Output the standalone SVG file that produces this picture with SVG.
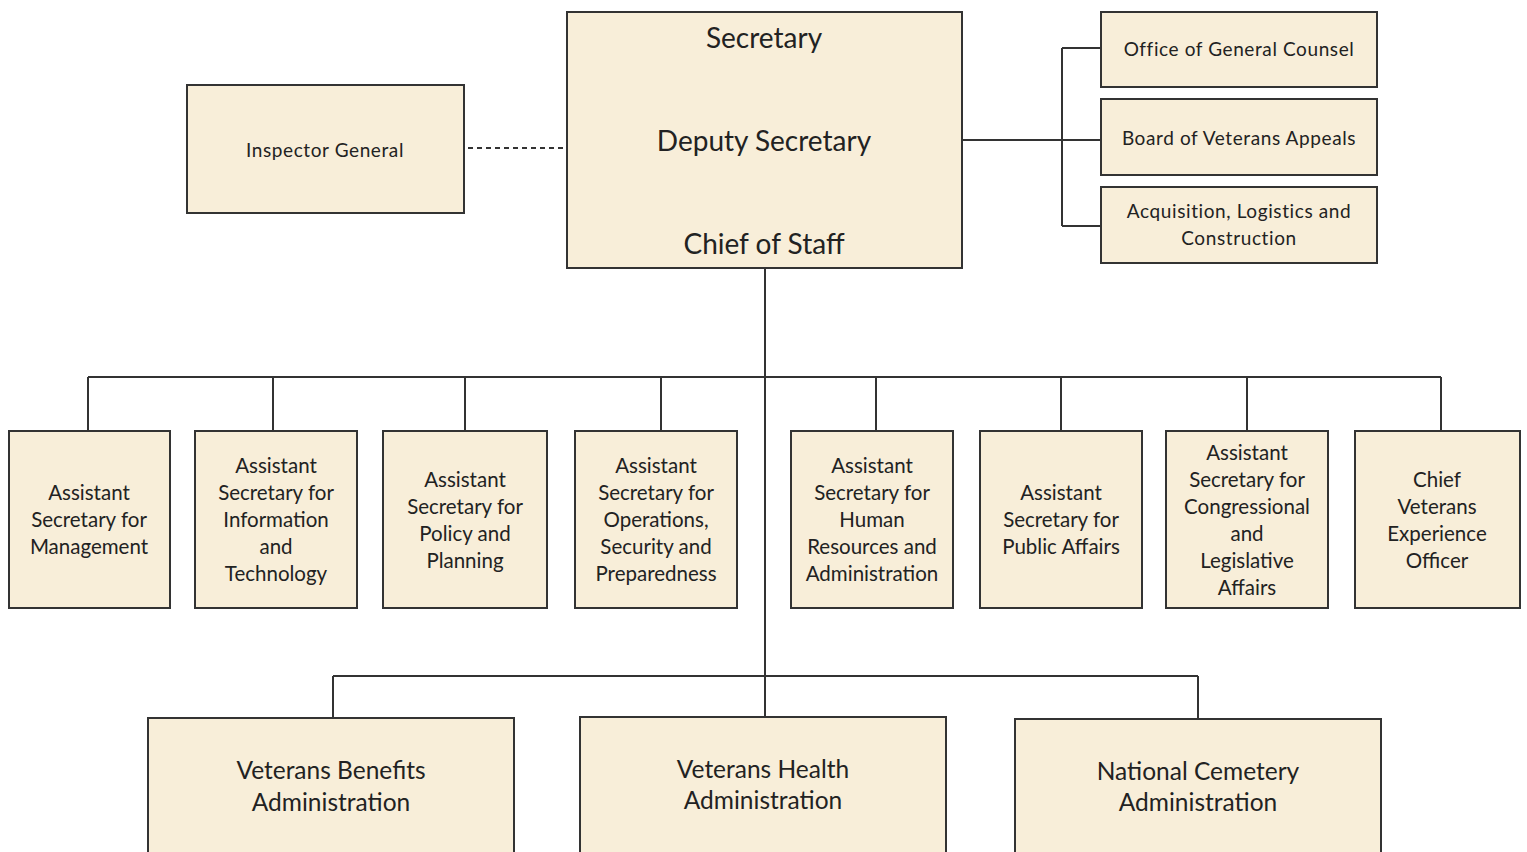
<svg xmlns="http://www.w3.org/2000/svg" width="1527" height="852" viewBox="0 0 1527 852">
<style>
.box{fill:#f8eed9;stroke:#333;stroke-width:2}
.ln{stroke:#333;stroke-width:2;fill:none}
text{font-family:Lato,"Open Sans","Liberation Sans",sans-serif;fill:#222;text-anchor:middle;dominant-baseline:central}
.big{font-size:28px}
.mid{font-size:24.5px}
.sm{font-size:20.5px}
.xs{font-size:19px;letter-spacing:0.6px}
</style>
<rect width="1527" height="852" fill="#fff"/>
<g id="connectors">
<line class="ln" x1="468" y1="148" x2="567" y2="148" stroke-dasharray="5,4"/>
<line class="ln" x1="962" y1="140" x2="1062" y2="140"/>
<line class="ln" x1="1062" y1="48" x2="1062" y2="226"/>
<line class="ln" x1="1062" y1="48" x2="1101" y2="48"/>
<line class="ln" x1="1062" y1="140" x2="1101" y2="140"/>
<line class="ln" x1="1062" y1="226" x2="1101" y2="226"/>
<line class="ln" x1="765" y1="268" x2="765" y2="718"/>
<line class="ln" x1="88" y1="377" x2="1441" y2="377"/>
<line class="ln" x1="88" y1="377" x2="88" y2="431"/>
<line class="ln" x1="273" y1="377" x2="273" y2="431"/>
<line class="ln" x1="465" y1="377" x2="465" y2="431"/>
<line class="ln" x1="661" y1="377" x2="661" y2="431"/>
<line class="ln" x1="876" y1="377" x2="876" y2="431"/>
<line class="ln" x1="1061" y1="377" x2="1061" y2="431"/>
<line class="ln" x1="1247" y1="377" x2="1247" y2="431"/>
<line class="ln" x1="1441" y1="377" x2="1441" y2="431"/>
<line class="ln" x1="333" y1="676" x2="1198" y2="676"/>
<line class="ln" x1="333" y1="676" x2="333" y2="718"/>
<line class="ln" x1="1198" y1="676" x2="1198" y2="718"/>
</g>
<g id="secretary">
<rect class="box" x="567" y="12" width="395" height="256"/>
<text class="big" x="764" y="37">Secretary</text>
<text class="big" x="764" y="140">Deputy Secretary</text>
<text class="big" x="764" y="243">Chief of Staff</text>
</g>
<g id="inspector-general">
<rect class="box" x="187" y="85" width="277" height="128"/>
<text class="xs" x="325" y="149">Inspector General</text>
</g>
<g id="general-counsel">
<rect class="box" x="1101" y="12" width="276" height="75"/>
<text class="xs" x="1239" y="48">Office of General Counsel</text>
</g>
<g id="veterans-appeals">
<rect class="box" x="1101" y="99" width="276" height="76"/>
<text class="xs" x="1239" y="137">Board of Veterans Appeals</text>
</g>
<g id="acquisition">
<rect class="box" x="1101" y="187" width="276" height="76"/>
<text class="xs" x="1239" y="210">Acquisition, Logistics and</text>
<text class="xs" x="1239" y="237">Construction</text>
</g>
<g id="as-management">
<rect class="box" x="9" y="431" width="161" height="177"/>
<text class="sm" x="89" y="492">Assistant</text>
<text class="sm" x="89" y="519">Secretary for</text>
<text class="sm" x="89" y="546">Management</text>
</g>
<g id="as-it">
<rect class="box" x="195" y="431" width="162" height="177"/>
<text class="sm" x="276" y="465">Assistant</text>
<text class="sm" x="276" y="492">Secretary for</text>
<text class="sm" x="276" y="519">Information</text>
<text class="sm" x="276" y="546">and</text>
<text class="sm" x="276" y="573">Technology</text>
</g>
<g id="as-policy">
<rect class="box" x="383" y="431" width="164" height="177"/>
<text class="sm" x="465" y="479">Assistant</text>
<text class="sm" x="465" y="506">Secretary for</text>
<text class="sm" x="465" y="533">Policy and</text>
<text class="sm" x="465" y="560">Planning</text>
</g>
<g id="as-operations">
<rect class="box" x="575" y="431" width="162" height="177"/>
<text class="sm" x="656" y="465">Assistant</text>
<text class="sm" x="656" y="492">Secretary for</text>
<text class="sm" x="656" y="519">Operations,</text>
<text class="sm" x="656" y="546">Security and</text>
<text class="sm" x="656" y="573">Preparedness</text>
</g>
<g id="as-hr">
<rect class="box" x="791" y="431" width="162" height="177"/>
<text class="sm" x="872" y="465">Assistant</text>
<text class="sm" x="872" y="492">Secretary for</text>
<text class="sm" x="872" y="519">Human</text>
<text class="sm" x="872" y="546">Resources and</text>
<text class="sm" x="872" y="573">Administration</text>
</g>
<g id="as-public-affairs">
<rect class="box" x="980" y="431" width="162" height="177"/>
<text class="sm" x="1061" y="492">Assistant</text>
<text class="sm" x="1061" y="519">Secretary for</text>
<text class="sm" x="1061" y="546">Public Affairs</text>
</g>
<g id="as-congressional">
<rect class="box" x="1166" y="431" width="162" height="177"/>
<text class="sm" x="1247" y="452">Assistant</text>
<text class="sm" x="1247" y="479">Secretary for</text>
<text class="sm" x="1247" y="506">Congressional</text>
<text class="sm" x="1247" y="533">and</text>
<text class="sm" x="1247" y="560">Legislative</text>
<text class="sm" x="1247" y="587">Affairs</text>
</g>
<g id="chief-veterans-experience">
<rect class="box" x="1355" y="431" width="165" height="177"/>
<text class="sm" x="1437" y="479">Chief</text>
<text class="sm" x="1437" y="506">Veterans</text>
<text class="sm" x="1437" y="533">Experience</text>
<text class="sm" x="1437" y="560">Officer</text>
</g>
<g id="vba">
<rect class="box" x="148" y="718" width="366" height="140"/>
<text class="mid" x="331" y="769">Veterans Benefits</text>
<text class="mid" x="331" y="801">Administration</text>
</g>
<g id="vha">
<rect class="box" x="580" y="717" width="366" height="141"/>
<text class="mid" x="763" y="768">Veterans Health</text>
<text class="mid" x="763" y="799">Administration</text>
</g>
<g id="nca">
<rect class="box" x="1015" y="719" width="366" height="139"/>
<text class="mid" x="1198" y="770">National Cemetery</text>
<text class="mid" x="1198" y="801">Administration</text>
</g>
</svg>
